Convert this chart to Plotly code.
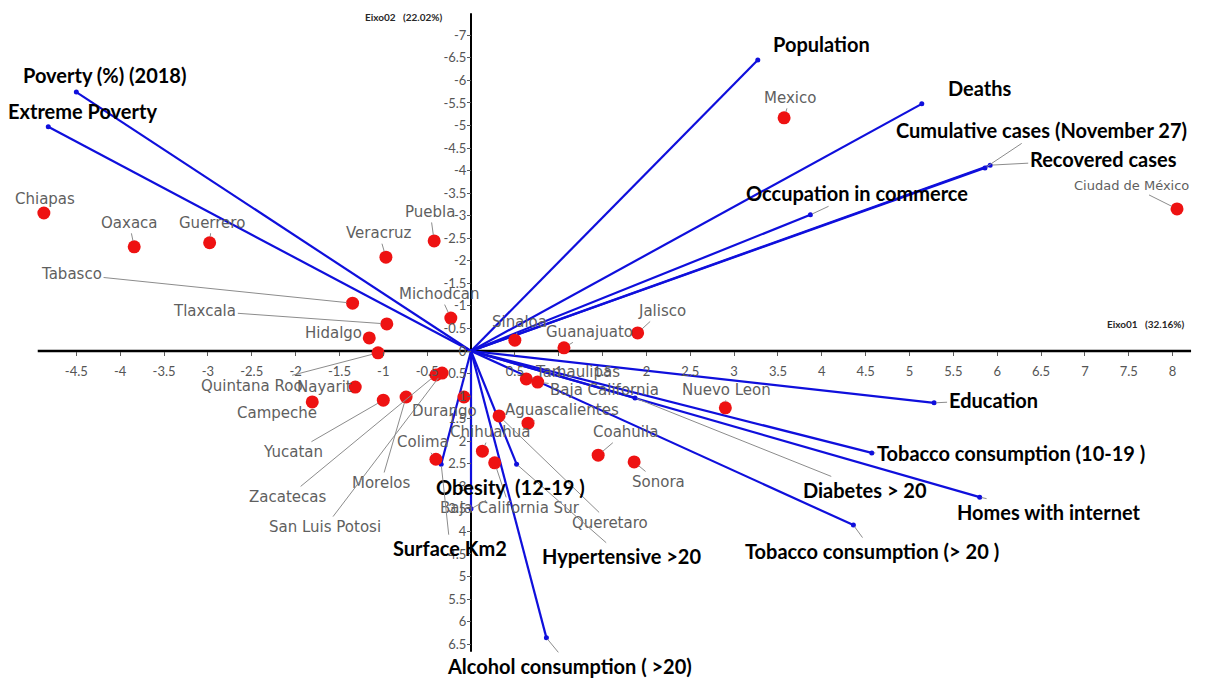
import plotly.graph_objects as go

# ---------------- data ----------------
states = ["Chiapas", "Oaxaca", "Guerrero", "Veracruz", "Puebla", "Tabasco", "Tlaxcala",
          "Hidalgo", "Michodcan", "Quintana Roo", "Nayarit", "Campeche", "Yucatan",
          "Zacatecas", "Morelos", "San Luis Potosi", "Durango", "Colima", "Chihuahua",
          "Aguascalientes", "Baja California Sur", "Queretaro", "Tamaulipas",
          "Baja California", "Nuevo Leon", "Coahuila", "Sonora", "Sinaloa", "Guanajuato",
          "Jalisco", "Mexico", "Ciudad de México"]
state_x = [-4.87, -3.84, -2.98, -0.97, -0.42, -1.35, -0.96, -1.16, -0.23, -1.06, -1.32,
           -1.81, -1.00, -0.40, -0.74, -0.33, -0.08, -0.40, 0.13, 0.65, 0.27, 0.32, 0.63,
           0.76, 2.90, 1.45, 1.86, 0.50, 1.06, 1.90, 3.57, 8.05]
state_y = [-3.06, -2.31, -2.40, -2.08, -2.44, -1.06, -0.60, -0.29, -0.73, 0.04, 0.80,
           1.13, 1.09, 0.53, 1.02, 0.49, 1.02, 2.40, 2.22, 1.60, 2.48, 1.44, 0.62,
           0.69, 1.26, 2.31, 2.46, -0.24, -0.07, -0.40, -5.17, -3.15]

variables = ["Population", "Deaths", "Cumulative cases (November 27)", "Recovered cases",
             "Occupation in commerce", "Education", "Tobacco consumption (10-19 )",
             "Diabetes > 20", "Homes with internet", "Tobacco consumption (> 20 )",
             "Hypertensive >20", "Alcohol consumption ( >20)", "Obesity  (12-19 )",
             "Surface Km2", "Poverty (%) (2018)", "Extreme Poverty"]
var_x = [3.27, 5.14, 5.86, 5.92, 3.87, 5.28, 4.57, 1.87, 5.80, 4.36, 0.52, 0.86, 0.00,
         -0.34, -4.50, -4.82]
var_y = [-6.45, -5.48, -4.06, -4.12, -3.02, 1.15, 2.26, 1.04, 3.24, 3.86, 2.51, 6.36, 3.50,
         2.51, -5.74, -4.97]

x_ticks = [-4.5, -4, -3.5, -3, -2.5, -2, -1.5, -1, -0.5, 0.5, 1, 1.5, 2, 2.5, 3, 3.5, 4,
           4.5, 5, 5.5, 6, 6.5, 7, 7.5, 8]
y_ticks = [-7, -6.5, -6, -5.5, -5, -4.5, -4, -3.5, -3, -2.5, -2, -1.5, -1, -0.5, 0, 0.5,
           1, 1.5, 2, 2.5, 3, 3.5, 4, 4.5, 5, 5.5, 6, 6.5]

x_axis_title = "Eixo01   (32.16%)"
y_axis_title = "Eixo02   (22.02%)"

# ---------------- layout / style ----------------
# the page body has an 8px default margin, so the figure is 8px smaller than the window
W, H = 1207, 675
X_RANGE = [-5.279, 8.483]
Y_RANGE = [7.361, -7.605]          # reversed (negative values at top)
X_LINE = [-4.94, 8.21]
Y_LINE = [-7.49, 6.67]

BOLD = "Lato, Roboto, sans-serif"
TICK = "Lato, Roboto, sans-serif"
LABEL_FONT = "DejaVu Sans, Verdana, sans-serif"
BLUE = "rgb(15,15,220)"
RED = "rgb(238,18,18)"
LEADER = "rgb(140,140,140)"

# label offsets in pixels (dx, dy) from the point
state_offsets = {
    "Chiapas": (1, -14), "Oaxaca": (-5, -24), "Guerrero": (2, -20), "Veracruz": (-7, -24),
    "Puebla": (-4, -29), "Tabasco": (-281, -29), "Tlaxcala": (-182, -13),
    "Hidalgo": (-36, -5), "Michodcan": (-11, -24), "Quintana Roo": (-126, 33),
    "Nayarit": (-31, 0), "Campeche": (-35, 11), "Yucatan": (-90, 52),
    "Zacatecas": (-148, 122), "Morelos": (-25, 86), "San Luis Potosi": (-117, 154),
    "Durango": (-19, 14), "Colima": (-13, -17), "Chihuahua": (8, -19),
    "Aguascalientes": (34, -13), "Baja California Sur": (15, 45), "Queretaro": (111, 107),
    "Tamaulipas": (51, -7), "Baja California": (67, 8), "Nuevo Leon": (1, -18),
    "Coahuila": (27, -23), "Sonora": (24, 20), "Sinaloa": (5, -18), "Guanajuato": (26, -16),
    "Jalisco": (24, -22), "Mexico": (6, -20), "Ciudad de México": (-46, -23),
}
state_font_size = {"Ciudad de México": 13}
var_offsets = {
    "Population": (64, -16, False), "Deaths": (58, -16, False),
    "Cumulative cases (November 27)": (57, -38, True), "Recovered cases": (113, -6, True),
    "Occupation in commerce": (47, -22, True), "Education": (59, -3, True),
    "Tobacco consumption (10-19 )": (139, 0, True), "Diabetes > 20": (230, 92, True),
    "Homes with internet": (69, 15, True), "Tobacco consumption (> 20 )": (19, 26, True),
    "Hypertensive >20": (105, 92, True), "Alcohol consumption ( >20)": (23, 28, True),
    "Obesity  (12-19 )": (39, -22, True), "Surface Km2": (9, 84, True),
    "Poverty (%) (2018)": (28, -17, False), "Extreme Poverty": (34, -16, False),
}

fig = go.Figure()

# vectors
lx, ly = [], []
for vx, vy in zip(var_x, var_y):
    lx += [0, vx, None]
    ly += [0, vy, None]
fig.add_trace(go.Scatter(x=lx, y=ly, mode="lines", line=dict(color=BLUE, width=2.2),
                         hoverinfo="skip", showlegend=False, cliponaxis=False))
fig.add_trace(go.Scatter(x=var_x, y=var_y, mode="markers", text=variables,
                         marker=dict(color=BLUE, size=5), showlegend=False, cliponaxis=False))

# states
fig.add_trace(go.Scatter(x=state_x, y=state_y, mode="markers", text=states,
                         marker=dict(color=RED, size=13, line=dict(width=0)),
                         showlegend=False, cliponaxis=False))

annotations = []
for name, sx, sy in zip(states, state_x, state_y):
    dx, dy = state_offsets[name]
    annotations.append(dict(
        x=sx, y=sy, xref="x", yref="y", text=name, showarrow=True, ax=dx, ay=dy,
        arrowhead=0, arrowwidth=1, arrowcolor=LEADER, standoff=6,
        font=dict(family=LABEL_FONT, size=state_font_size.get(name, 15),
                  color="rgb(95,95,95)")))
for name, vx, vy in zip(variables, var_x, var_y):
    dx, dy, arrow = var_offsets[name]
    annotations.append(dict(
        x=vx, y=vy, xref="x", yref="y", text="<b>" + name + "</b>", showarrow=True,
        ax=dx, ay=dy, arrowhead=0, arrowwidth=1,
        arrowcolor=LEADER if arrow else "rgba(0,0,0,0)", standoff=2,
        font=dict(family=BOLD, size=20, color="black")))

annotations.append(dict(x=(363 - 8) / W, y=1 - (17 - 8) / H, xref="paper", yref="paper",
                        text="<b>" + y_axis_title + "</b>", showarrow=False,
                        xanchor="left", yanchor="middle",
                        font=dict(family=BOLD, size=10, color="rgb(40,40,40)")))
annotations.append(dict(x=(1105 - 8) / W, y=1 - (324 - 8) / H, xref="paper", yref="paper",
                        text="<b>" + x_axis_title + "</b>", showarrow=False,
                        xanchor="left", yanchor="middle",
                        font=dict(family=BOLD, size=10, color="rgb(40,40,40)")))

shapes = [
    dict(type="line", xref="x", yref="y", x0=X_LINE[0], x1=X_LINE[1], y0=0, y1=0,
         line=dict(color="black", width=2.5), layer="below"),
    dict(type="line", xref="x", yref="y", x0=0, x1=0, y0=Y_LINE[0], y1=Y_LINE[1],
         line=dict(color="black", width=2), layer="below"),
]

x_pos = (0 - X_RANGE[0]) / (X_RANGE[1] - X_RANGE[0])
y_pos = (Y_RANGE[0] - 0) / (Y_RANGE[0] - Y_RANGE[1])

tickfont = dict(family=TICK, size=13, color="rgb(85,85,85)")
fig.update_layout(
    width=W, height=H, margin=dict(l=0, r=0, t=0, b=0),
    paper_bgcolor="white", plot_bgcolor="white", showlegend=False,
    xaxis=dict(range=X_RANGE, anchor="free", position=y_pos, showgrid=False,
               zeroline=False, showline=False, tickmode="array", tickvals=x_ticks,
               ticktext=[f"{v:g}" for v in x_ticks], ticks="outside", ticklen=4,
               tickcolor="rgb(90,90,90)", tickfont=tickfont, ticklabelstandoff=4),
    yaxis=dict(range=Y_RANGE, anchor="free", position=x_pos, showgrid=False,
               zeroline=False, showline=False, tickmode="array", tickvals=y_ticks,
               ticktext=[f"{v:g}" for v in y_ticks], ticks="outside", ticklen=4,
               tickcolor="rgb(90,90,90)", tickfont=tickfont, ticklabelstandoff=-2),
    annotations=annotations, shapes=shapes,
)

fig.write_html("out.html")
